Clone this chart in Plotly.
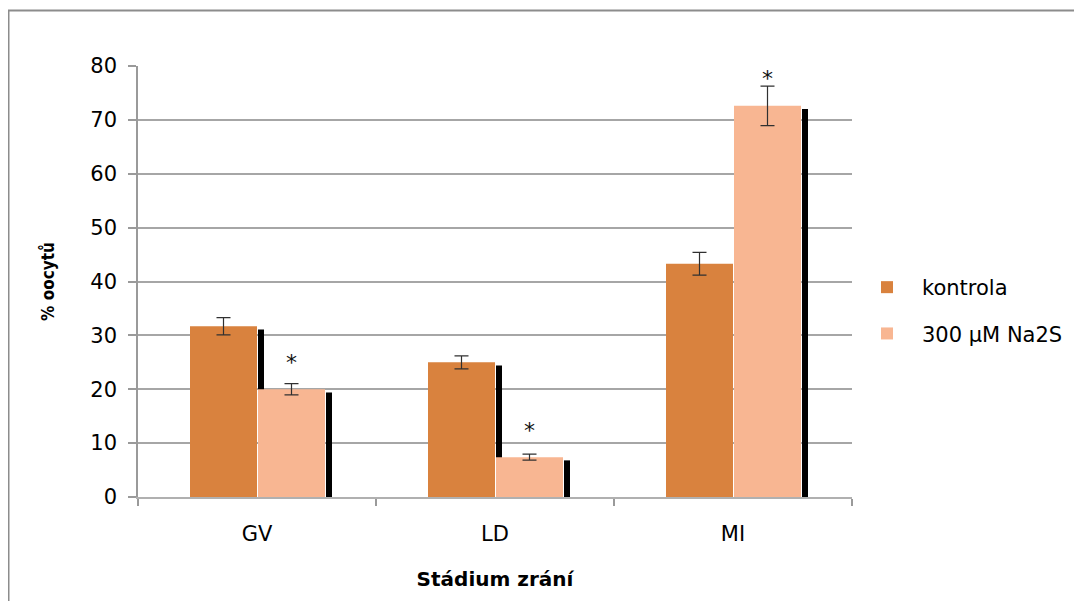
import plotly.graph_objects as go

# ---- data ----
categories = ["GV", "LD", "MI"]
kontrola = [31.7, 25.0, 43.3]
kontrola_err = [1.6, 1.2, 2.1]
na2s = [20.0, 7.4, 72.6]
na2s_err = [1.05, 0.55, 3.65]
significance = ["*", "*", "*"]
y_ticks = [0, 10, 20, 30, 40, 50, 60, 70, 80]

# ---- styling / geometry (in category units; 1 category = 238 px) ----
PX = 1 / 238.0
BAR_W = 67 * PX
SHADOW_W = 6 * PX
SHADOW_DROP = 0.6   # shadow top slightly below bar top (value units)
C_KON = "rgb(217,130,62)"
C_NA = "rgb(248,182,146)"
GRID = "#a6a6a6"
FONT = "DejaVu Sans"

xpos = list(range(len(categories)))

fig = go.Figure()

# shadow behind kontrola (visible only above Na2S bar)
fig.add_trace(go.Bar(
    x=xpos, y=[v - SHADOW_DROP for v in kontrola],
    width=[SHADOW_W] * 3, offset=[1 * PX] * 3,
    marker=dict(color="black", line=dict(width=0)),
    showlegend=False, hoverinfo="skip",
))
fig.add_trace(go.Bar(
    x=xpos, y=kontrola, name="kontrola",
    width=[BAR_W] * 3, offset=[-BAR_W] * 3,
    marker=dict(color=C_KON, line=dict(width=0)),
    error_y=dict(type="data", array=kontrola_err, color="#303030",
                 thickness=1.2, width=7),
    legendgroup="k",
))
fig.add_trace(go.Bar(
    x=xpos, y=[v - SHADOW_DROP for v in na2s],
    width=[SHADOW_W] * 3, offset=[1 * PX + BAR_W + 1 * PX] * 3,
    marker=dict(color="black", line=dict(width=0)),
    showlegend=False, hoverinfo="skip",
))
fig.add_trace(go.Bar(
    x=xpos, y=na2s, name="300 µM Na2S",
    width=[BAR_W] * 3, offset=[1 * PX] * 3,
    marker=dict(color=C_NA, line=dict(width=0)),
    error_y=dict(type="data", array=na2s_err, color="#303030",
                 thickness=1.2, width=7),
    legendgroup="n",
))

# significance asterisks above the Na2S bars
for xi, v, s in zip(xpos, na2s, significance):
    fig.add_annotation(
        x=xi + 1 * PX + BAR_W / 2, y=v, text=s, showarrow=False,
        xref="x", yref="y", yshift=27,
        font=dict(family=FONT, size=22, color="#111111"),
    )

# outer chart border (extends past the right and bottom edges)
fig.add_shape(type="rect", xref="paper", yref="paper",
              x0=(0.5 - 130) / 714, x1=(1100 - 130) / 714,
              y0=(489 - 640) / 431, y1=(489 - 2.5) / 431,
              line=dict(color="#8c8c8c", width=2), fillcolor="rgba(0,0,0,0)",
              layer="below")

# page body has an 8px margin, so the figure is offset by 8px
fig.update_layout(
    width=1074, height=593,
    margin=dict(l=130, r=230, t=58, b=104),
    paper_bgcolor="white", plot_bgcolor="white",
    barmode="overlay",
    font=dict(family=FONT, size=21, color="black"),
    showlegend=True,
    legend=dict(
        x=1.0, y=0.4327, xanchor="left", yanchor="middle",
        xref="paper", yref="paper",
        font=dict(family=FONT, size=21, color="black"),
        itemwidth=60, tracegroupgap=16, traceorder="grouped",
        bgcolor="rgba(0,0,0,0)",
    ),
    xaxis=dict(
        range=[-0.5, 2.5], tickmode="array", tickvals=xpos, ticktext=categories,
        ticks="", showgrid=False, zeroline=False,
        showline=True, linecolor="#b0b0b0", linewidth=2,
        ticklabelstandoff=17,
        tickfont=dict(family=FONT, size=21, color="black"),
        minor=dict(tickvals=[-0.5, 0.5, 1.5, 2.5], ticks="outside",
                   ticklen=7, tickcolor="#9a9a9a", tickwidth=1.5, showgrid=False),
        title=dict(text="<b>Stádium zrání</b>", standoff=27,
                   font=dict(family=FONT, size=20, color="black")),
    ),
    yaxis=dict(
        range=[0, 80], tickmode="array", tickvals=y_ticks,
        ticks="outside", ticklen=8, tickcolor="#9a9a9a", tickwidth=1.5,
        showgrid=True, gridcolor=GRID, gridwidth=1.5, zeroline=False,
        showline=True, linecolor="#9a9a9a", linewidth=1.5,
        ticklabelstandoff=7,
        tickfont=dict(family=FONT, size=21, color="black"),
        title=dict(text="<b>% oocytů</b>", standoff=31,
                   font=dict(family="DejaVu Sans Condensed", size=17, color="black")),
    ),
)

fig.write_html("out.html")
